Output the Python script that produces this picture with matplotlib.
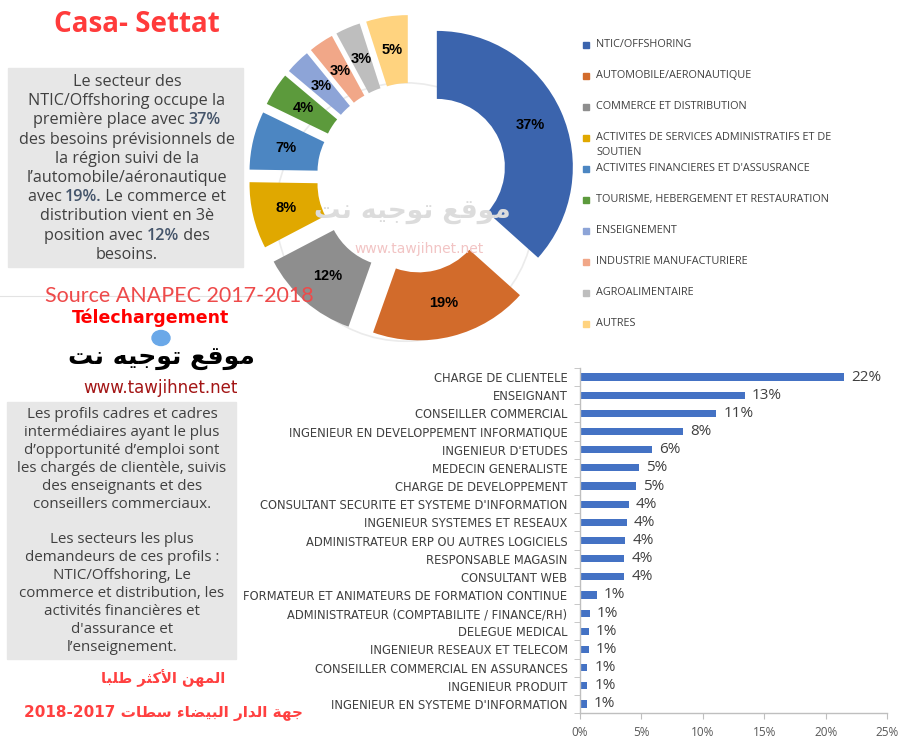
import matplotlib
matplotlib.use("Agg")
import matplotlib.pyplot as plt
from matplotlib.patches import Rectangle, Circle
from matplotlib.lines import Line2D
from matplotlib.ticker import FuncFormatter, FixedLocator

# ---- data ----
sectors = ["NTIC/OFFSHORING", "AUTOMOBILE/AERONAUTIQUE", "COMMERCE ET DISTRIBUTION",
           "ACTIVITES DE SERVICES ADMINISTRATIFS ET DE\nSOUTIEN",
           "ACTIVITES FINANCIERES ET D'ASSUSRANCE",
           "TOURISME, HEBERGEMENT ET RESTAURATION", "ENSEIGNEMENT",
           "INDUSTRIE MANUFACTURIERE", "AGROALIMENTAIRE", "AUTRES"]
shares = [37, 19, 12, 8, 7, 4, 3, 3, 3, 5]
sector_colors = ["#3B64AD", "#D26B2B", "#8E8E8E", "#E0A800", "#4C86C2",
                 "#5C9A3C", "#8DA4D7", "#F1A788", "#BEBEBE", "#FFD37F"]

jobs = ["CHARGE DE CLIENTELE", "ENSEIGNANT", "CONSEILLER COMMERCIAL",
        "INGENIEUR EN DEVELOPPEMENT INFORMATIQUE", "INGENIEUR D'ETUDES",
        "MEDECIN GENERALISTE", "CHARGE DE DEVELOPPEMENT",
        "CONSULTANT SECURITE ET SYSTEME D'INFORMATION",
        "INGENIEUR SYSTEMES ET RESEAUX", "ADMINISTRATEUR ERP OU AUTRES LOGICIELS",
        "RESPONSABLE MAGASIN", "CONSULTANT WEB",
        "FORMATEUR ET ANIMATEURS DE FORMATION CONTINUE",
        "ADMINISTRATEUR (COMPTABILITE / FINANCE/RH)", "DELEGUE MEDICAL",
        "INGENIEUR RESEAUX ET TELECOM", "CONSEILLER COMMERCIAL EN ASSURANCES",
        "INGENIEUR PRODUIT", "INGENIEUR EN SYSTEME D'INFORMATION"]
job_share = [21.5, 13.4, 11.1, 8.4, 5.9, 4.8, 4.6, 4.0, 3.8, 3.7, 3.6, 3.6,
             1.4, 0.8, 0.7, 0.7, 0.6, 0.6, 0.55]
x_ticks = [0, 5, 10, 15, 20, 25]

box1 = [[("Le secteur des", 0)],
        [("NTIC/Offshoring occupe la", 0)],
        [("première place avec ", 0), ("37%", 1)],
        [("des besoins prévisionnels de", 0)],
        [("la région suivi de la", 0)],
        [("l’automobile/aéronautique", 0)],
        [("avec ", 0), ("19%.", 1), (" Le commerce et", 0)],
        [("distribution vient en 3è", 0)],
        [("position avec ", 0), ("12%", 1), (" des", 0)],
        [("besoins.", 0)]]
box2 = ["Les profils cadres et cadres", "intermédiaires ayant le plus",
        "d’opportunité d’emploi sont", "les chargés de clientèle, suivis",
        "des enseignants et des", "conseillers commerciaux.", "",
        "Les secteurs les plus", "demandeurs de ces profils :",
        "NTIC/Offshoring, Le", "commerce et distribution, les",
        "activités financières et", "d'assurance et", "l’enseignement."]

# minimal arabic shaping (presentation forms, visual order)
AR = {'ا': ('\uFE8D', '\uFE8E'), 'أ': ('\uFE83', '\uFE84'), 'د': ('\uFEA9', '\uFEAA'),
      'ر': ('\uFEAD', '\uFEAE'), 'و': ('\uFEED', '\uFEEE'), 'ة': ('\uFE93', '\uFE94'),
      'ء': ('\uFE80', '\uFE80'),
      'ب': ('\uFE8F', '\uFE90', '\uFE91', '\uFE92'), 'ت': ('\uFE95', '\uFE96', '\uFE97', '\uFE98'),
      'ث': ('\uFE99', '\uFE9A', '\uFE9B', '\uFE9C'), 'ج': ('\uFE9D', '\uFE9E', '\uFE9F', '\uFEA0'),
      'س': ('\uFEB1', '\uFEB2', '\uFEB3', '\uFEB4'), 'ض': ('\uFEBD', '\uFEBE', '\uFEBF', '\uFEC0'),
      'ط': ('\uFEC1', '\uFEC2', '\uFEC3', '\uFEC4'), 'ع': ('\uFEC9', '\uFECA', '\uFECB', '\uFECC'),
      'ق': ('\uFED5', '\uFED6', '\uFED7', '\uFED8'), 'ك': ('\uFED9', '\uFEDA', '\uFEDB', '\uFEDC'),
      'ل': ('\uFEDD', '\uFEDE', '\uFEDF', '\uFEE0'), 'م': ('\uFEE1', '\uFEE2', '\uFEE3', '\uFEE4'),
      'ن': ('\uFEE5', '\uFEE6', '\uFEE7', '\uFEE8'), 'ه': ('\uFEE9', '\uFEEA', '\uFEEB', '\uFEEC'),
      'ي': ('\uFEF1', '\uFEF2', '\uFEF3', '\uFEF4'),
      '\uE001': ('\uFEF7', '\uFEF8'), '\uE002': ('\uFEFB', '\uFEFC')}


def shape_ar(s):
    s = s.replace('لأ', '\uE001').replace('لا', '\uE002')
    out = []
    for i, ch in enumerate(s):
        f = AR.get(ch)
        if f is None:
            out.append(ch)
            continue
        prev = s[i - 1] if i > 0 else ''
        nxt = s[i + 1] if i + 1 < len(s) else ''
        jp = prev in AR and len(AR[prev]) == 4
        jn = len(f) == 4 and nxt in AR
        if jp and jn:
            out.append(f[3])
        elif jp:
            out.append(f[1])
        elif jn:
            out.append(f[2])
        else:
            out.append(f[0])
    return ''.join(reversed(out))


W, H = 900, 750
def fx(px): return px / W
def fy(py): return 1 - py / H

TXT = "#404040"
fig = plt.figure(figsize=(9, 7.5), dpi=100)
fig.patch.set_facecolor("white")
renderer = fig.canvas.get_renderer()

# ---- donut ----
cx, cy, half = 412, 178, 170
ax1 = fig.add_axes([fx(cx - half), fy(cy + half), 2 * half / W, 2 * half / H])
ax1.axis("off")
# faint watermark in the hole
ax1.add_patch(Circle((-0.05, -0.25), 0.95, fill=False, ec="#EBEBEB", lw=1.2))
ax1.text(0.0, -0.25, shape_ar("موقع توجيه نت"), ha="center", va="center",
         fontsize=19, fontweight="bold", color="#DCDCDC", family="DejaVu Sans")
ax1.text(0.05, -0.52, "www.tawjihnet.net", ha="center", va="center",
         fontsize=10, color="#F2C4C4", family="DejaVu Sans")
wedges, _, autotexts = ax1.pie(shares, colors=sector_colors, radius=1.0, startangle=90,
                               counterclock=False, explode=[0.2] * len(shares),
                               autopct="%.0f%%", pctdistance=0.75,
                               wedgeprops=dict(width=0.5, linewidth=0),
                               textprops=dict(fontsize=10.5, fontweight="bold",
                                              color="black", family="Liberation Sans"))
ax1.set_xlim(-1.25, 1.25)
ax1.set_ylim(-1.25, 1.25)

# legend
for i, (name, col) in enumerate(zip(sectors, sector_colors)):
    yy = 45 + 31 * i
    fig.patches.append(Rectangle((fx(583), fy(yy + 3)), 6 / W, 6 / H, color=col,
                                 transform=fig.transFigure, figure=fig))
    fig.text(fx(596), fy(yy - 6), name, ha="left", va="top", fontsize=7.8,
             color=TXT, family="Open Sans", linespacing=1.45)

# ---- title and text blocks ----
fig.text(fx(137), fy(25), "Casa- Settat", ha="center", va="center", fontsize=20,
         fontweight="bold", color="#FF3B3B", family="Open Sans")

fig.patches.append(Rectangle((fx(8), fy(267)), 235 / W, 199 / H, color="#E7E7E7",
                             transform=fig.transFigure, figure=fig, zorder=0))
fig.patches.append(Rectangle((fx(7), fy(659)), 229 / W, 257 / H, color="#E7E7E7",
                             transform=fig.transFigure, figure=fig, zorder=0))


def rich_line(xc, y, parts, size):
    full = "".join(p for p, _ in parts)
    probe = fig.text(0, 0, full, fontsize=size, family="Open Sans")
    total = probe.get_window_extent(renderer).width
    probe.remove()
    start = xc - total / 2
    acc = ""
    for p, hl in parts:
        acc += p
        tmp = fig.text(0, 0, acc, fontsize=size, family="Open Sans")
        w = tmp.get_window_extent(renderer).width
        tmp.remove()
        fig.text(fx(start + w), fy(y), p, ha="right", va="center", fontsize=size,
                 family="Open Sans", color="#44546A" if hl else TXT,
                 fontweight="semibold" if hl else "normal")


for i, parts in enumerate(box1):
    rich_line(127, 82 + 19.2 * i, parts, 11.6)

for i, line in enumerate(box2):
    fig.text(fx(122), fy(415 + 17.85 * i), line, ha="center", va="center",
             fontsize=10.9, color=TXT, family="Open Sans")

fig.add_artist(Line2D([0, fx(290)], [fy(296), fy(296)], color="#E3E3E3", lw=0.8))
fig.text(fx(179), fy(296), "Source ANAPEC 2017-2018", ha="center", va="center",
         fontsize=15.5, color="#EE4A4A", family="Lato")
fig.text(fx(151), fy(318), "Télechargement", ha="center", va="center", fontsize=12.5,
         fontweight="bold", color="#FF0000", family="DejaVu Sans")
fig.patches.append(Circle((fx(161), fy(338)), 9 / W, color="#6AA8E8",
                          transform=fig.transFigure, figure=fig))
fig.text(fx(161), fy(358), shape_ar("موقع توجيه نت"), ha="center", va="center",
         fontsize=18, fontweight="bold", color="black", family="DejaVu Sans")
fig.text(fx(160), fy(388), "www.tawjihnet.net", ha="center", va="center",
         fontsize=12, color="#A31515", family="DejaVu Sans")

fig.text(fx(163), fy(678), shape_ar("المهن الأكثر طلبا"), ha="center", va="center",
         fontsize=10.5, fontweight="bold", color="#FF4040", family="DejaVu Sans")
fig.text(fx(163), fy(713), "2018-2017 " + shape_ar("جهة الدار البيضاء سطات"),
         ha="center", va="center", fontsize=11, fontweight="bold", color="#FF4040",
         family="DejaVu Sans")

# ---- bar chart ----
x0, x1, y0, y1 = 580, 887, 368, 713
ax2 = fig.add_axes([fx(x0), fy(y1), (x1 - x0) / W, (y1 - y0) / H])
ax2.patch.set_alpha(0)
pos = list(range(len(jobs)))
bars = ax2.barh(pos, job_share, height=0.4, color="#4472C4")
ax2.bar_label(bars, labels=[f"{v:.0f}%" for v in job_share], padding=5,
              fontsize=11, color=TXT, family="Open Sans")
ax2.set_xlim(0, 25)
ax2.set_ylim(len(jobs) - 0.5, -0.5)
ax2.xaxis.set_major_locator(FixedLocator(x_ticks))
ax2.xaxis.set_major_formatter(FuncFormatter(lambda v, p: f"{v:.0f}%"))
ax2.set_yticks(pos)
ax2.set_yticklabels(jobs, fontsize=8.3, color=TXT, family="Liberation Sans Narrow")
ax2.set_yticks([p + 0.5 for p in pos] + [-0.5], minor=True)
ax2.tick_params(axis="y", which="major", length=0, pad=9)
ax2.tick_params(axis="y", which="minor", length=4, color="#BFBFBF", direction="out")
ax2.tick_params(axis="x", length=4, color="#BFBFBF", labelsize=8.5, labelcolor="#595959",
                pad=5)
for lab in ax2.get_xticklabels():
    lab.set_family("Open Sans")
for s in ["top", "right"]:
    ax2.spines[s].set_visible(False)
for s in ["left", "bottom"]:
    ax2.spines[s].set_color("#BFBFBF")
    ax2.spines[s].set_linewidth(1)

fig.savefig("out.png", dpi=100, facecolor="white")
